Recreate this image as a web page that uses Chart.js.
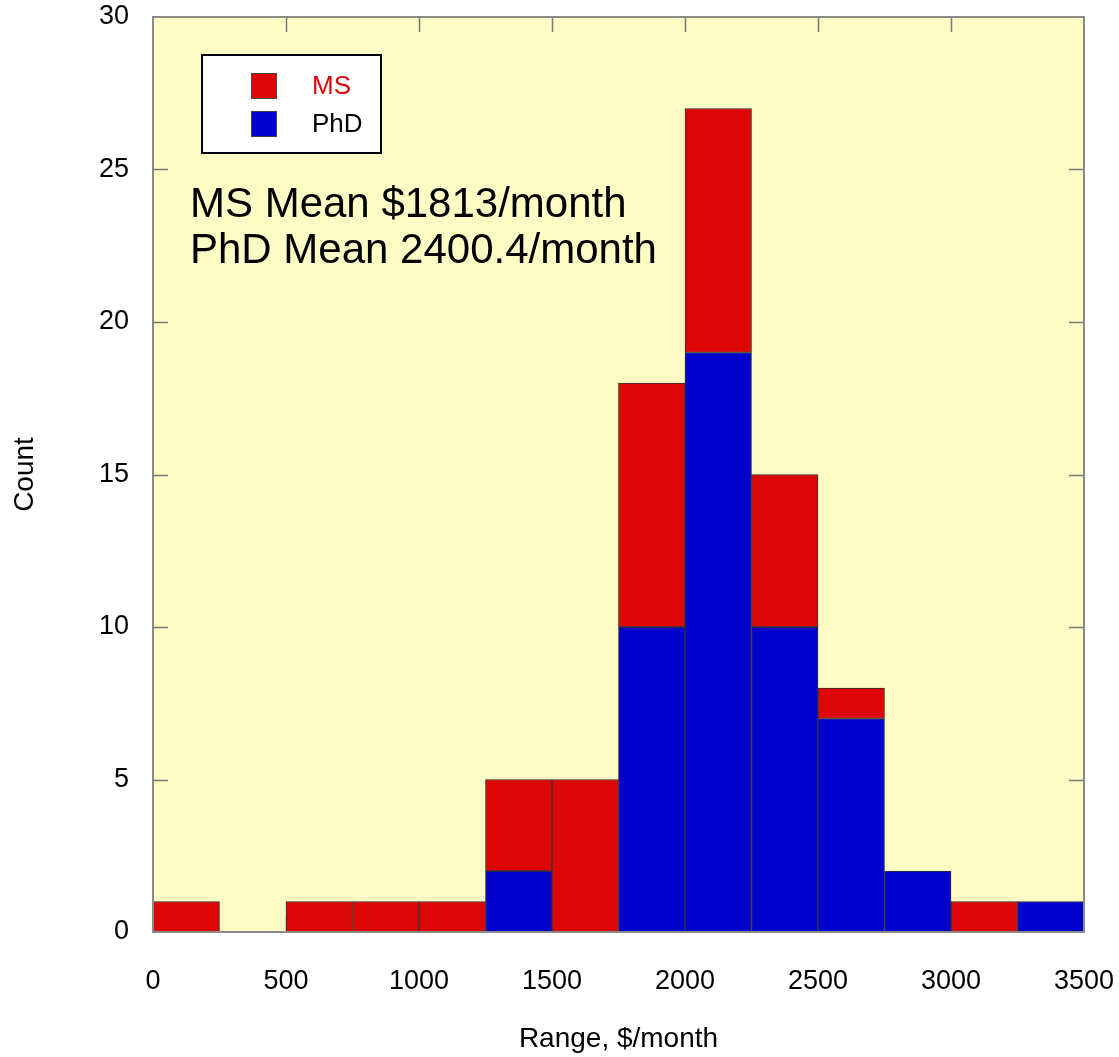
<!DOCTYPE html>
<html>
<head>
<meta charset="utf-8">
<script src="https://cdn.jsdelivr.net/npm/chart.js@4"></script>
<style>
  body { margin: 0; background: #fff; }
  #wrap { width: 1119px; height: 1057px; }
</style>
</head>
<body>
<div id="wrap"><canvas id="histChart"></canvas></div>
<script>
// === DATA ===
const binStarts = [0, 250, 500, 750, 1000, 1250, 1500, 1750, 2000, 2250, 2500, 2750, 3000, 3250];
const binWidth = 250;
const msCounts = [1, 0, 1, 1, 1, 3, 5, 8, 8, 5, 1, 0, 1, 0];
const phdCounts = [0, 0, 0, 0, 0, 2, 0, 10, 19, 10, 7, 2, 0, 1];
const meanLines = ["MS Mean $1813/month", "PhD Mean 2400.4/month"];

const FONT = "'Liberation Sans', Arial, sans-serif";
const RED = "#dd0606";
const BLUE = "#0000cc";
const PLOT_BG = "#fcfcc4";
const FRAME = "#8a8a8a";

// bins -> {x, y} points at bin centers, zeros left out
function toPoints(counts) {
  return counts.map((c, i) => ({ x: binStarts[i] + binWidth / 2, y: c === 0 ? null : c }));
}

// plot background, frame, inner ticks, legend box and mean text
const decorPlugin = {
  id: "decor",
  beforeDatasetsDraw(chart) {
    const { ctx, chartArea: a, scales } = chart;
    ctx.save();
    ctx.fillStyle = PLOT_BG;
    ctx.fillRect(a.left, a.top, a.right - a.left, a.bottom - a.top);

    // inner ticks on all four sides
    ctx.strokeStyle = "#777";
    ctx.lineWidth = 1.5;
    const len = 15;
    ctx.beginPath();
    scales.x.ticks.forEach((t) => {
      if (t.value <= scales.x.min || t.value >= scales.x.max) return;
      const px = Math.round(scales.x.getPixelForValue(t.value)) + 0.5;
      ctx.moveTo(px, a.bottom); ctx.lineTo(px, a.bottom - len);
      ctx.moveTo(px, a.top); ctx.lineTo(px, a.top + len);
    });
    scales.y.ticks.forEach((t) => {
      if (t.value <= scales.y.min || t.value >= scales.y.max) return;
      const py = Math.round(scales.y.getPixelForValue(t.value)) + 0.5;
      ctx.moveTo(a.left, py); ctx.lineTo(a.left + len, py);
      ctx.moveTo(a.right, py); ctx.lineTo(a.right - len, py);
    });
    ctx.stroke();
    ctx.restore();
  },
  afterDatasetsDraw(chart) {
    const { ctx, chartArea: a } = chart;
    ctx.save();

    // frame
    ctx.strokeStyle = FRAME;
    ctx.lineWidth = 2;
    ctx.strokeRect(a.left, a.top, a.right - a.left, a.bottom - a.top);

    // legend box
    const lx = a.left + 49, ly = a.top + 38, lw = 179, lh = 98;
    ctx.fillStyle = "#fff";
    ctx.fillRect(lx, ly, lw, lh);
    ctx.strokeStyle = "#000";
    ctx.lineWidth = 2;
    ctx.strokeRect(lx, ly, lw, lh);

    const items = [
      { label: "MS", color: RED, text: RED },
      { label: "PhD", color: BLUE, text: "#000" },
    ];
    ctx.font = "26px " + FONT;
    ctx.textBaseline = "middle";
    ctx.textAlign = "left";
    items.forEach((it, i) => {
      const sy = ly + 18 + i * 38;
      ctx.fillStyle = it.color;
      ctx.fillRect(lx + 49, sy, 26, 26);
      ctx.strokeStyle = "#444";
      ctx.lineWidth = 1;
      ctx.strokeRect(lx + 49.5, sy + 0.5, 25, 25);
      ctx.fillStyle = it.text;
      ctx.fillText(it.label, lx + 110, sy + 14);
    });

    // mean annotation
    ctx.fillStyle = "#000";
    ctx.font = "42px " + FONT;
    ctx.textBaseline = "alphabetic";
    meanLines.forEach((line, i) => {
      ctx.fillText(line, a.left + 37, a.top + 200 + i * 46);
    });
    ctx.restore();
  },
};

const chart = new Chart(document.getElementById("histChart"), {
  type: "bar",
  data: {
    datasets: [
      {
        label: "PhD",
        data: toPoints(phdCounts),
        backgroundColor: BLUE,
        borderColor: "#333",
        borderWidth: 1,
        borderSkipped: false,
        barPercentage: 1,
        categoryPercentage: 1,
      },
      {
        label: "MS",
        data: toPoints(msCounts),
        backgroundColor: RED,
        borderColor: "#333",
        borderWidth: 1,
        borderSkipped: false,
        barPercentage: 1,
        categoryPercentage: 1,
      },
    ],
  },
  options: {
    responsive: true,
    maintainAspectRatio: false,
    animation: false,
    layout: { padding: { top: 17, right: 35, bottom: 0, left: 0 } },
    plugins: { legend: { display: false }, tooltip: { enabled: false } },
    scales: {
      x: {
        type: "linear",
        stacked: true,
        offset: false,
        min: 0,
        max: 3500,
        grid: { display: false, drawTicks: false },
        border: { display: false },
        ticks: {
          stepSize: 500,
          padding: 33,
          color: "#000",
          font: { family: FONT, size: 27 },
          maxRotation: 0,
          callback: (v) => String(v),
        },
        title: { display: true, text: "Range, $/month", color: "#000", font: { family: FONT, size: 28 }, padding: { top: 1, bottom: 1 } },
        afterFit: (s) => { s.height = 125; s.paddingLeft = 0; s.paddingRight = 0; },
      },
      y: {
        stacked: true,
        min: 0,
        max: 30,
        grid: { display: false, drawTicks: false },
        border: { display: false },
        ticks: { stepSize: 5, padding: 24, color: "#000", font: { family: FONT, size: 27 } },
        title: { display: true, text: "Count", color: "#000", font: { family: FONT, size: 28 }, padding: { top: 8, bottom: 8 } },
        afterFit: (s) => { s.width = 153; s.paddingTop = 0; s.paddingBottom = 0; },
      },
    },
  },
  plugins: [decorPlugin],
});
</script>
</body>
</html>
